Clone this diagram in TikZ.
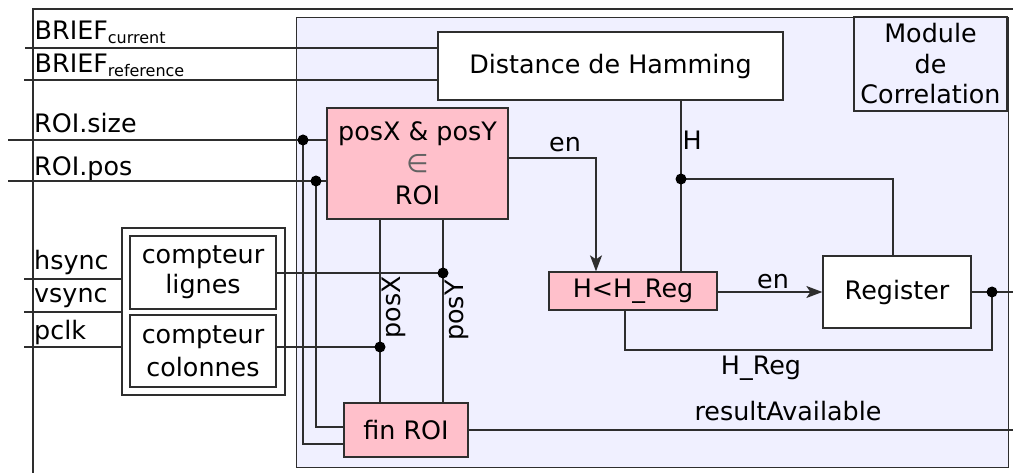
\documentclass[tikz,border=0pt]{standalone}
\usepackage{fontspec}
\setmainfont{DejaVu Sans}
\usetikzlibrary{arrows.meta}
\definecolor{modfill}{HTML}{F0F0FF}
\definecolor{pinkfill}{HTML}{FFC0CB}
\definecolor{wire}{HTML}{2E2E2E}
\newcommand\mainsz{\fontsize{25.4}{30.5}\selectfont}
\newcommand\subsz{\fontsize{16}{16}\selectfont}
\begin{document}
\begin{tikzpicture}[x=1pt,y=-1pt,
  wireline/.style={draw=wire,line width=1.3pt},
  arrowline/.style={wireline,-{Stealth[length=16pt,width=12pt,inset=4pt]}},
  blk/.style={draw=wire,line width=1.3pt,inner sep=0pt,align=center,font=\mainsz},
  lbl/.style={inner sep=0pt,font=\mainsz},
  dot/.style={fill=black}]
\path[use as bounding box] (0,0) rectangle (1013,473);
% outer frame
\draw[wireline] (33,473) -- (33,9) -- (1013,9);
% module
\node[draw=wire,line width=1.3pt,fill=modfill,minimum width=712,minimum height=450,anchor=north west,inner sep=0pt] (mod) at (296,17) {};
\node[blk,minimum width=153,minimum height=94] (modl) at (930.5,64) {Module\\de\\Correlation};
% blocks
\node[blk,fill=white,minimum width=345,minimum height=68] (dist) at (610.5,66) {Distance de Hamming};
\node[blk,fill=pinkfill,minimum width=181,minimum height=111,font=\fontsize{25.4}{32}\selectfont] (roi) at (417.5,163.5) {posX \& posY\\{\color{wire!75}∈}\\ROI};
\node[blk,fill=pinkfill,minimum width=168,minimum height=38] (hlt) at (633,291) {H<H\_Reg};
\node[blk,fill=white,minimum width=148,minimum height=72] (reg) at (897,292) {Register};
\node[draw=wire,line width=1.3pt,minimum width=163,minimum height=167,inner sep=0pt] (cnt) at (203.5,311.5) {};
\node[blk,minimum width=146,minimum height=73,font=\fontsize{25.4}{30}\selectfont] (cl) at (203,272.5) {compteur\\lignes};
\node[blk,minimum width=146,minimum height=72,font=\fontsize{25.4}{33}\selectfont] (cc) at (203,351) {compteur\\colonnes};
\node[blk,fill=pinkfill,minimum width=124,minimum height=54] (fin) at (406,430) {fin ROI};
% input labels
\node[lbl,anchor=base west] (lbc) at (34.5,40) {BRIEF\raisebox{-4pt}{\subsz current}};
\node[lbl,anchor=base west] (lbr) at (34.5,73) {BRIEF\raisebox{-4pt}{\subsz reference}};
\node[lbl,anchor=base west] (lrs) at (34,133) {ROI.size};
\node[lbl,anchor=base west] (lrp) at (34,176) {ROI.pos};
\node[lbl,anchor=base west] (lhs) at (34,270) {hsync};
\node[lbl,anchor=base west] (lvs) at (34,303) {vsync};
\node[lbl,anchor=base west] (lpc) at (34,340) {pclk};
% coordinates
\coordinate (bcin) at (25,48);
\coordinate (brin) at (24,80);
\coordinate (rsin) at (8,140);
\coordinate (rsd) at (303,140);
\coordinate (rpin) at (8,181);
\coordinate (rpd) at (316,181);
\coordinate (hsin) at (24,279);
\coordinate (vsin) at (24,312);
\coordinate (pcin) at (24,347);
\coordinate (py) at (443,273);
\coordinate (px) at (380,347);
\coordinate (enc) at (596,158);
\coordinate (hd) at (681,179);
\coordinate (hr) at (893,179);
\coordinate (ro) at (992,292);
\coordinate (rend) at (1013,292);
\coordinate (hb) at (992,350);
\coordinate (ra) at (1013,430);
% wires
\draw[wireline] (bcin) -- (bcin -| dist.west);
\draw[wireline] (brin) -- (brin -| dist.west);
\draw[wireline] (rsin) -- (rsin -| roi.west);
\draw[wireline] (rpin) -- (rpin -| roi.west);
\draw[wireline] (rsd) |- ([yshift=-14pt]fin.west);
\draw[wireline] (rpd) |- ([yshift=3pt]fin.west);
\draw[wireline] (hsin) -- (hsin -| cnt.west);
\draw[wireline] (vsin) -- (vsin -| cnt.west);
\draw[wireline] (pcin) -- (pcin -| cnt.west);
\draw[wireline] (cl.east |- py) -- (py);
\draw[wireline] (cc.east |- px) -- (px);
\draw[wireline] (roi.south -| px) -- (fin.north -| px);
\draw[wireline] (roi.south -| py) -- (fin.north -| py);
\draw[arrowline] (roi.east |- enc) -- (enc) -- (hlt.north -| enc);
\draw[wireline] (dist.south -| hd) -- (hlt.north -| hd);
\draw[wireline] (hd) -- (hr) -- (reg.north -| hr);
\draw[arrowline] (hlt.east |- reg.west) -- (reg.west);
\draw[wireline] (reg.east) -- (rend);
\draw[wireline] (ro) -- (hb) -| ([xshift=-8pt]hlt.south);
\draw[wireline] (fin.east |- ra) -- (ra);
% dots
\foreach \p in {rsd,rpd,py,px,hd,ro} \fill[dot] (\p) circle (5.5);
% wire labels
\node[lbl,anchor=base] (len1) at (565,152) {en};
\node[lbl,anchor=base west] (lh) at (682.5,150) {H};
\node[lbl,anchor=base] (len2) at (773,289) {en};
\node[lbl,anchor=base] (lhreg) at (761,374) {H\_Reg};
\node[lbl,anchor=base] (lra) at (788,420) {resultAvailable};
\node[lbl,anchor=base,rotate=90] (lpx) at (400,307) {posX};
\node[lbl,anchor=base,rotate=90] (lpy) at (463,310.5) {posY};
\end{tikzpicture}
\end{document}
